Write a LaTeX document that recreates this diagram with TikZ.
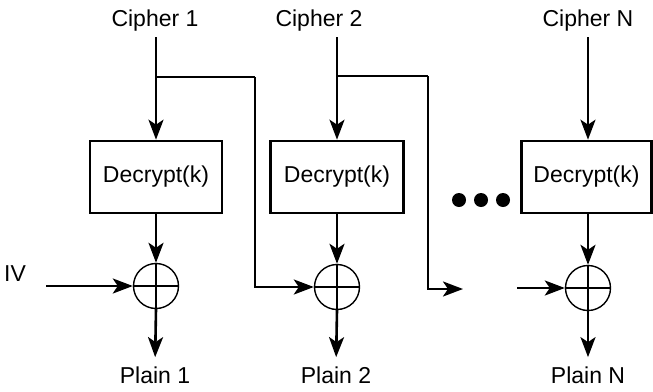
\documentclass[tikz,border=0pt]{standalone}
\usepackage{fontspec}
\setmainfont{Liberation Sans}
\usetikzlibrary{arrows.meta}
\begin{document}
\begin{tikzpicture}[x=1pt,y=-1pt,
  lbl/.style={inner sep=0pt,font=\fontsize{23}{27}\selectfont},
  blk/.style={draw,line width=2.6pt,minimum height=72pt,inner sep=0pt,font=\fontsize{23}{27}\selectfont},
  xorn/.style={circle,draw,line width=1.4pt,minimum size=45pt,inner sep=0pt},
  dotn/.style={circle,fill=black,minimum size=14pt,inner sep=0pt},
  arr/.style={line width=2.6pt,-{Stealth[length=20pt,width=15pt,inset=5pt]}},
  wire/.style={line width=2.6pt}]
\useasboundingbox (0,0) rectangle (653,391);
% texts
\node[lbl,anchor=base] (c1) at (155,26) {Cipher 1};
\node[lbl,anchor=base] (c2) at (319,26) {Cipher 2};
\node[lbl,anchor=base] (cN) at (588,26) {Cipher N};
\node[lbl,anchor=base] (p1) at (155,383) {Plain 1};
\node[lbl,anchor=base] (p2) at (336,383) {Plain 2};
\node[lbl,anchor=base] (pN) at (588,383) {Plain N};
\node[lbl,anchor=base] (iv) at (15,281) {IV};
% boxes
\node[blk,minimum width=132pt] (b1) at (156,177) {Decrypt(k)};
\node[blk,minimum width=133pt] (b2) at (337,177) {Decrypt(k)};
\node[blk,minimum width=130pt] (bN) at (586.5,177) {Decrypt(k)};
% xors
\node[xorn] (x1) at (156,286) {};
\node[xorn] (x2) at (337,287) {};
\node[xorn] (xN) at (588,288) {};
\foreach \n in {x1,x2,xN}{
  \draw[wire] (\n.north) -- (\n.south);
  \draw[wire] (\n.west) -- (\n.east);
}
% dots
\node[dotn] (d1) at (459,200) {};
\node[dotn] (d2) at (481,200) {};
\node[dotn] (d3) at (503,200) {};
% coordinates
\coordinate (t1) at (156,37);
\coordinate (t2) at (337,37);
\coordinate (tN) at (588,37);
\coordinate (j1) at (156,77);
\coordinate (k1) at (255,77);
\coordinate (j2) at (337,76);
\coordinate (k2) at (428,76);
\coordinate (e2) at (463,289);
\coordinate (sN) at (517,288);
\coordinate (ivs) at (46,286);
% connectors
\draw[arr] (t1) -- (t1 |- b1.north);
\draw[arr] (t2) -- (t2 |- b2.north);
\draw[arr] (tN) -- (tN |- bN.north);
\draw[wire] (j1) -- (k1);
\draw[arr] (k1) |- (x2.west);
\draw[wire] (j2) -- (k2);
\draw[arr] (k2) |- (e2);
\draw[arr] (sN) -- (xN.west);
\draw[arr] (ivs) -- (x1.west);
\draw[arr] (b1.south) -- (x1.north);
\draw[arr] (b2.south) -- (x2.north);
\draw[arr] (bN.south -| xN.north) -- (xN.north);
\draw[arr,shorten >=9pt] (x1.south) -- (p1.north);
\draw[arr,shorten >=9pt] (x2.south) -- (p2.north);
\draw[arr,shorten >=9pt] (xN.south) -- (pN.north);
\end{tikzpicture}
\end{document}
